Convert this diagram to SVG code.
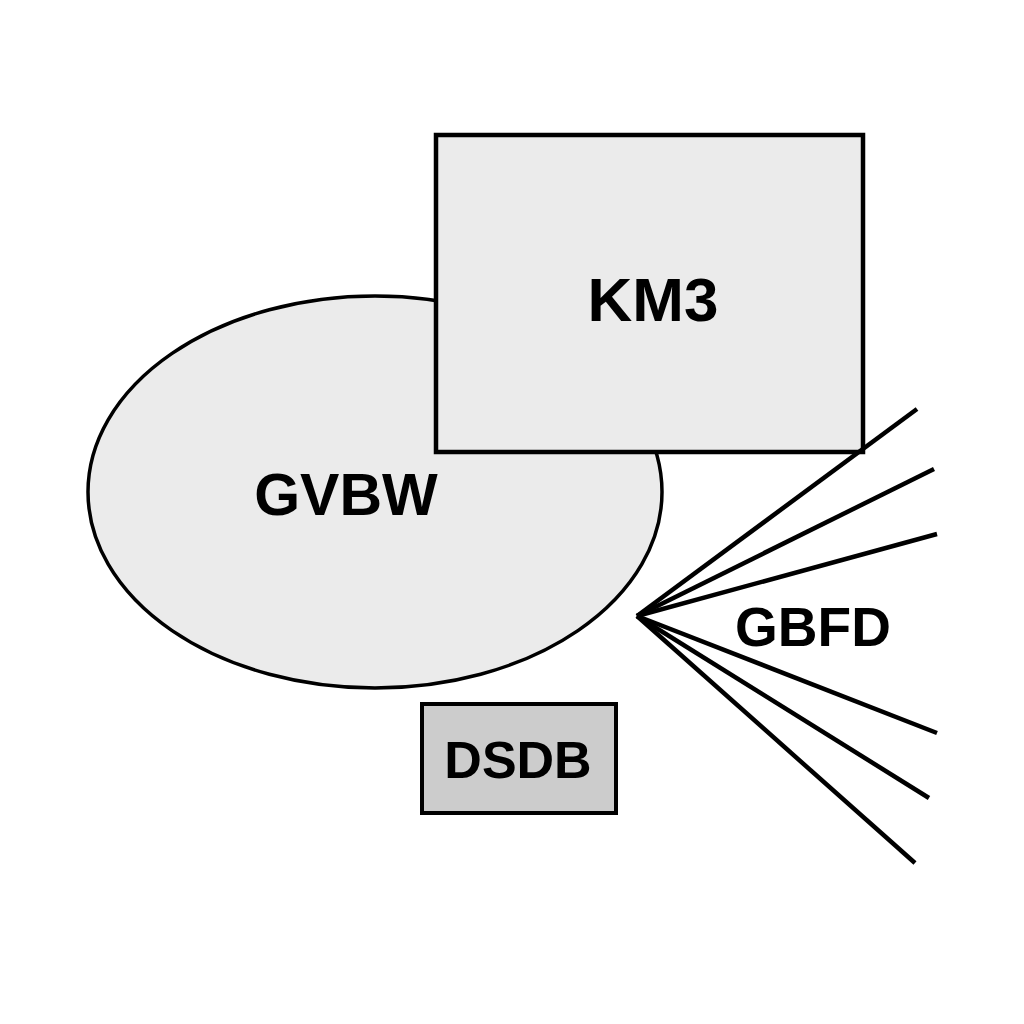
<svg xmlns="http://www.w3.org/2000/svg" width="1024" height="1024" viewBox="0 0 1024 1024">
<style>
.shape{fill:#ebebeb;stroke:#000;stroke-width:3.5}
.box{fill:#ebebeb;stroke:#000;stroke-width:4.5}
.dark{fill:#cccccc;stroke:#000;stroke-width:4}
.lbl{font-family:"Liberation Sans",Arial,sans-serif;font-weight:bold;fill:#000;text-anchor:middle}
.ray{stroke:#000;stroke-width:4.5;stroke-linecap:butt;fill:none}
</style>
<rect width="1024" height="1024" fill="#fff"/>
<g id="GVBW">
<ellipse class="shape" cx="375" cy="492" rx="287" ry="196"/>
<text class="lbl" x="346" y="515" font-size="59">GVBW</text>
</g>
<g id="KM3">
<rect class="box" x="436" y="135" width="427" height="317"/>
<text class="lbl" x="653" y="321" font-size="62">KM3</text>
</g>
<g id="DSDB">
<rect class="dark" x="422" y="704" width="194" height="109"/>
<text class="lbl" x="518" y="778" font-size="52">DSDB</text>
</g>
<g id="GBFD">
<text class="lbl" x="813" y="646" font-size="55">GBFD</text>
</g>
<g id="connectors">
<line class="ray" x1="637" y1="616" x2="917" y2="409"/>
<line class="ray" x1="637" y1="616" x2="934" y2="469"/>
<line class="ray" x1="637" y1="616" x2="937" y2="534"/>
<line class="ray" x1="637" y1="616" x2="937" y2="733"/>
<line class="ray" x1="637" y1="616" x2="929" y2="798"/>
<line class="ray" x1="637" y1="616" x2="915" y2="863"/>
</g>
</svg>
